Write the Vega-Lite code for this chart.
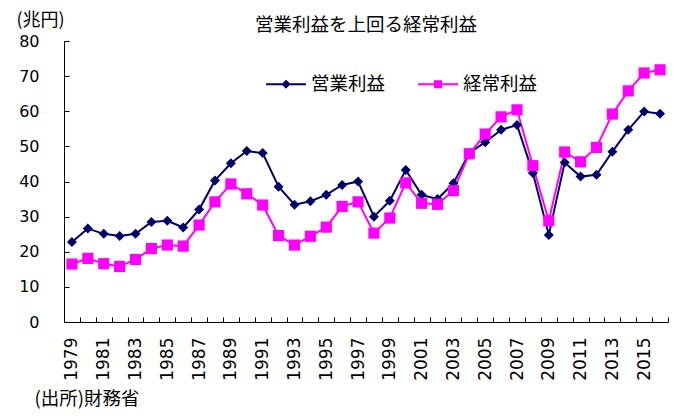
{
  "$schema": "https://vega.github.io/schema/vega-lite/v6.json",
  "width": 604,
  "height": 281,
  "autosize": "none",
  "padding": {"left": 64, "top": 41, "right": 7, "bottom": 98},
  "background": "white",
  "config": {
    "view": {"stroke": null},
    "axis": {"domainColor": "black", "tickColor": "black", "labelColor": "black", "titleColor": "black", "grid": false}
  },
  "title": {"text": "営業利益を上回る経常利益", "font": "Noto Sans CJK JP", "fontSize": 18.5, "fontWeight": "normal", "color": "black", "anchor": "middle", "offset": 7, "dy": 30},
  "data": {"values": [
    {"year": 1979, "series": "営業利益", "value": 22.8},
    {"year": 1980, "series": "営業利益", "value": 26.6},
    {"year": 1981, "series": "営業利益", "value": 25.1},
    {"year": 1982, "series": "営業利益", "value": 24.5},
    {"year": 1983, "series": "営業利益", "value": 25.1},
    {"year": 1984, "series": "営業利益", "value": 28.5},
    {"year": 1985, "series": "営業利益", "value": 28.8},
    {"year": 1986, "series": "営業利益", "value": 26.9},
    {"year": 1987, "series": "営業利益", "value": 32.0},
    {"year": 1988, "series": "営業利益", "value": 40.3},
    {"year": 1989, "series": "営業利益", "value": 45.2},
    {"year": 1990, "series": "営業利益", "value": 48.7},
    {"year": 1991, "series": "営業利益", "value": 48.1},
    {"year": 1992, "series": "営業利益", "value": 38.5},
    {"year": 1993, "series": "営業利益", "value": 33.4},
    {"year": 1994, "series": "営業利益", "value": 34.4},
    {"year": 1995, "series": "営業利益", "value": 36.2},
    {"year": 1996, "series": "営業利益", "value": 39.0},
    {"year": 1997, "series": "営業利益", "value": 40.0},
    {"year": 1998, "series": "営業利益", "value": 30.0},
    {"year": 1999, "series": "営業利益", "value": 34.5},
    {"year": 2000, "series": "営業利益", "value": 43.3},
    {"year": 2001, "series": "営業利益", "value": 36.2},
    {"year": 2002, "series": "営業利益", "value": 35.0},
    {"year": 2003, "series": "営業利益", "value": 39.5},
    {"year": 2004, "series": "営業利益", "value": 48.1},
    {"year": 2005, "series": "営業利益", "value": 51.2},
    {"year": 2006, "series": "営業利益", "value": 54.7},
    {"year": 2007, "series": "営業利益", "value": 56.1},
    {"year": 2008, "series": "営業利益", "value": 42.4},
    {"year": 2009, "series": "営業利益", "value": 24.8},
    {"year": 2010, "series": "営業利益", "value": 45.4},
    {"year": 2011, "series": "営業利益", "value": 41.4},
    {"year": 2012, "series": "営業利益", "value": 41.9},
    {"year": 2013, "series": "営業利益", "value": 48.5},
    {"year": 2014, "series": "営業利益", "value": 54.7},
    {"year": 2015, "series": "営業利益", "value": 59.9},
    {"year": 2016, "series": "営業利益", "value": 59.3},
    {"year": 1979, "series": "経常利益", "value": 16.5},
    {"year": 1980, "series": "経常利益", "value": 18.1},
    {"year": 1981, "series": "経常利益", "value": 16.6},
    {"year": 1982, "series": "経常利益", "value": 15.8},
    {"year": 1983, "series": "経常利益", "value": 17.8},
    {"year": 1984, "series": "経常利益", "value": 20.9},
    {"year": 1985, "series": "経常利益", "value": 21.9},
    {"year": 1986, "series": "経常利益", "value": 21.6},
    {"year": 1987, "series": "経常利益", "value": 27.6},
    {"year": 1988, "series": "経常利益", "value": 34.2},
    {"year": 1989, "series": "経常利益", "value": 39.3},
    {"year": 1990, "series": "経常利益", "value": 36.5},
    {"year": 1991, "series": "経常利益", "value": 33.3},
    {"year": 1992, "series": "経常利益", "value": 24.6},
    {"year": 1993, "series": "経常利益", "value": 21.9},
    {"year": 1994, "series": "経常利益", "value": 24.4},
    {"year": 1995, "series": "経常利益", "value": 27.0},
    {"year": 1996, "series": "経常利益", "value": 32.9},
    {"year": 1997, "series": "経常利益", "value": 34.2},
    {"year": 1998, "series": "経常利益", "value": 25.3},
    {"year": 1999, "series": "経常利益", "value": 29.6},
    {"year": 2000, "series": "経常利益", "value": 39.6},
    {"year": 2001, "series": "経常利益", "value": 33.8},
    {"year": 2002, "series": "経常利益", "value": 33.5},
    {"year": 2003, "series": "経常利益", "value": 37.4},
    {"year": 2004, "series": "経常利益", "value": 47.9},
    {"year": 2005, "series": "経常利益", "value": 53.5},
    {"year": 2006, "series": "経常利益", "value": 58.4},
    {"year": 2007, "series": "経常利益", "value": 60.4},
    {"year": 2008, "series": "経常利益", "value": 44.5},
    {"year": 2009, "series": "経常利益", "value": 28.8},
    {"year": 2010, "series": "経常利益", "value": 48.4},
    {"year": 2011, "series": "経常利益", "value": 45.6},
    {"year": 2012, "series": "経常利益", "value": 49.7},
    {"year": 2013, "series": "経常利益", "value": 59.2},
    {"year": 2014, "series": "経常利益", "value": 65.8},
    {"year": 2015, "series": "経常利益", "value": 70.9},
    {"year": 2016, "series": "経常利益", "value": 71.8}
  ]},
  "encoding": {
    "y": {
      "field": "value", "type": "quantitative",
      "scale": {"domain": [0, 80], "nice": false},
      "axis": {
        "values": [0, 10, 20, 30, 40, 50, 60, 70, 80],
        "tickSize": -5, "labelPadding": 30, "labelFont": "DejaVu Sans", "labelFontSize": 16, "labelFontWeight": "normal",
        "title": "(兆円)", "titleAngle": 0, "titleX": -48, "titleY": -21, "titleAlign": "left", "titleBaseline": "middle",
        "titleFont": "Noto Sans CJK JP", "titleFontSize": 18, "titleFontWeight": "normal"
      }
    },
    "color": {
      "field": "series", "type": "nominal",
      "scale": {"domain": ["営業利益", "経常利益"], "range": ["#000066", "#FF00FF"]},
      "legend": {
        "orient": "none", "legendX": 201, "legendY": 22, "direction": "horizontal", "title": null, "padding": 0,
        "labelFont": "Noto Sans CJK JP", "labelFontSize": 18.5, "labelColor": "black", "labelOffset": 4,
        "symbolSize": 1600, "symbolStrokeWidth": 2, "columnPadding": 28,
        "encode": {"symbols": {"update": {
          "shape": {"signal": "datum.value === '営業利益' ? 'M-1,0L1,0M0,-0.16L0.16,0L0,0.16L-0.16,0Z' : 'M-1,0L1,0M-0.15,-0.15L0.15,-0.15L0.15,0.15L-0.15,0.15Z'"},
          "size": {"value": 1600},
          "fill": {"signal": "datum.value === '営業利益' ? '#000066' : '#FF00FF'"},
          "stroke": {"signal": "datum.value === '営業利益' ? '#000066' : '#DD33DD'"},
          "strokeWidth": {"value": 2},
          "opacity": {"value": 1},
          "fillOpacity": {"value": 1}
        }}}
      }
    }
  },
  "layer": [
    {
      "mark": {"type": "line", "strokeWidth": 2},
      "encoding": {
        "x": {
          "field": "year", "type": "quantitative",
          "scale": {"domain": [1978.5, 2016.5], "nice": false, "zero": false},
          "axis": {
            "values": [1978.5, 1979.5, 1980.5, 1981.5, 1982.5, 1983.5, 1984.5, 1985.5, 1986.5, 1987.5, 1988.5, 1989.5, 1990.5, 1991.5, 1992.5, 1993.5, 1994.5, 1995.5, 1996.5, 1997.5, 1998.5, 1999.5, 2000.5, 2001.5, 2002.5, 2003.5, 2004.5, 2005.5, 2006.5, 2007.5, 2008.5, 2009.5, 2010.5, 2011.5, 2012.5, 2013.5, 2014.5, 2015.5, 2016.5],
            "orient": "bottom", "labels": false, "tickSize": -5, "title": null, "domain": true
          }
        }
      }
    },
    {
      "transform": [{"filter": "datum.series === '営業利益'"}],
      "mark": {"type": "point", "filled": true, "opacity": 1, "shape": "diamond", "size": 100},
      "encoding": {
        "x": {
          "field": "year", "type": "quantitative",
          "scale": {"domain": [1978.5, 2016.5], "nice": false, "zero": false},
          "axis": {
            "values": [1979, 1981, 1983, 1985, 1987, 1989, 1991, 1993, 1995, 1997, 1999, 2001, 2003, 2005, 2007, 2009, 2011, 2013, 2015],
            "orient": "bottom", "format": "d", "ticks": false, "tickSize": 0, "domain": false,
            "labelAngle": 270, "labelPadding": 15, "labelFont": "DejaVu Sans", "labelFontSize": 17, "labelFontWeight": "normal",
            "title": "(出所)財務省", "titleX": -30, "titleY": 76, "titleAlign": "left", "titleBaseline": "middle", "titleAngle": 0,
            "titleFont": "Noto Sans CJK JP", "titleFontSize": 18.5, "titleFontWeight": "normal"
          }
        }
      }
    },
    {
      "transform": [{"filter": "datum.series === '経常利益'"}],
      "mark": {"type": "point", "filled": true, "opacity": 1, "shape": "square", "size": 125},
      "encoding": {
        "x": {
          "field": "year", "type": "quantitative",
          "scale": {"domain": [1978.5, 2016.5], "nice": false, "zero": false},
          "axis": null
        }
      }
    }
  ],
  "resolve": {"axis": {"x": "independent"}}
}
